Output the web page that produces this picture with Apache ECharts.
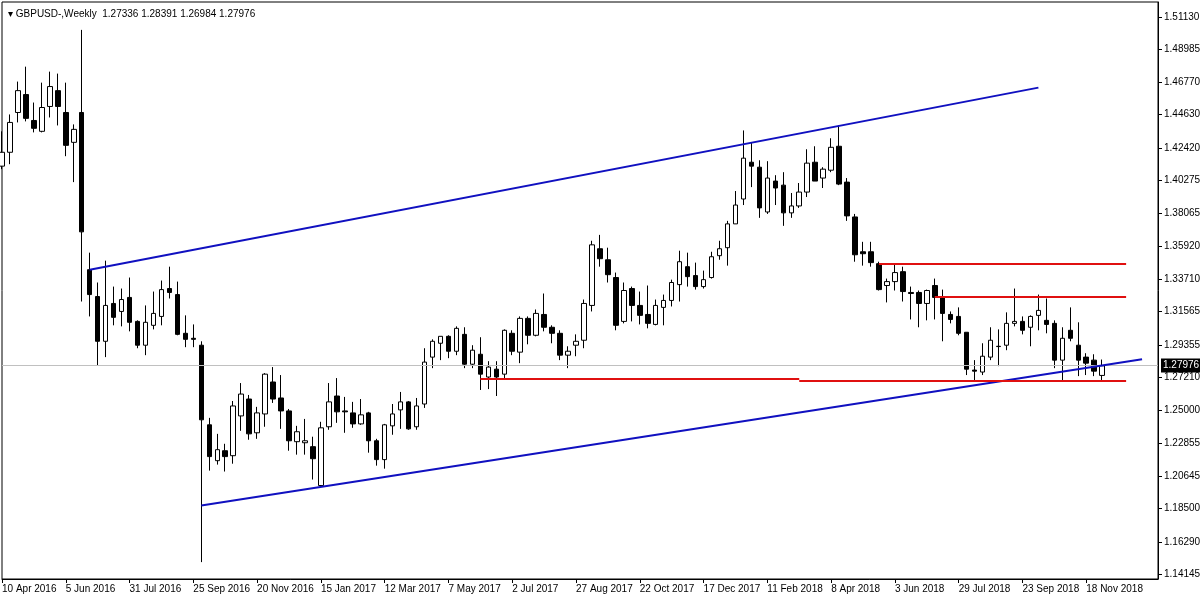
<!DOCTYPE html>
<html><head><meta charset="utf-8">
<script src="https://cdn.jsdelivr.net/npm/echarts@6/dist/echarts.min.js"></script>
<style>html,body{margin:0;padding:0;background:#fff}#c{width:1200px;height:600px}</style>
</head><body><div id="c"></div>
<script>
const opens=[1.4122,1.4214,1.4478,1.4597,1.4425,1.4353,1.4518,1.4623,1.4478,1.4280,
1.4478,1.3435,1.3257,1.2960,1.3211,1.3158,1.3251,1.3092,1.2934,1.3066,
1.3125,1.3310,1.3270,1.3013,1.2980,1.2934,1.2406,1.2168,1.2234,1.2201,
1.2465,1.2577,1.2353,1.2478,1.2690,1.2584,1.2498,1.2294,1.2287,1.2261,
1.2003,1.2393,1.2597,1.2498,1.2485,1.2412,1.2485,1.2300,1.2175,1.2399,
1.2505,1.2558,1.2393,1.2544,1.2855,1.2947,1.2993,1.2894,1.3006,1.2808,
1.2874,1.2723,1.2775,1.2742,1.3013,1.2888,1.3112,1.3000,1.3138,1.3053,
1.3013,1.2868,1.2934,1.2967,1.3198,1.3574,1.3501,1.3383,1.3092,1.3310,
1.3198,1.3138,1.3072,1.3185,1.3231,1.3336,1.3455,1.3396,1.3323,1.3383,
1.3528,1.3581,1.3739,1.3904,1.4148,1.4115,1.3818,1.4023,1.3996,1.3812,
1.3858,1.3950,1.4148,1.4043,1.4095,1.4254,1.4016,1.3785,1.3554,1.3554,
1.3475,1.3330,1.3356,1.3422,1.3284,1.3284,1.3211,1.3330,1.3251,1.3138,
1.3125,1.3020,1.2769,1.2756,1.2855,1.2927,1.2934,1.3079,1.3092,1.3053,
1.3132,1.3099,1.3079,1.2835,1.3033,1.2934,1.2855,1.2835,1.27336];
const closes=[1.4214,1.4412,1.4623,1.4439,1.4373,1.4511,1.4650,1.4518,1.4260,1.4366,
1.3686,1.3270,1.2960,1.3198,1.3119,1.3237,1.3086,1.2934,1.3086,1.3145,
1.3303,1.3284,1.3006,1.2973,1.2973,1.2439,1.2195,1.2241,1.2195,1.2531,
1.2610,1.2346,1.2485,1.2742,1.2577,1.2498,1.2300,1.2360,1.2300,1.2181,
1.2386,1.2558,1.2492,1.2492,1.2412,1.2472,1.2300,1.2175,1.2406,1.2478,
1.2558,1.2379,1.2531,1.2822,1.2960,1.2993,1.2894,1.3046,1.2808,1.2901,
1.2742,1.2789,1.2723,1.3033,1.2894,1.3112,1.3000,1.3145,1.3053,1.3013,
1.2868,1.2894,1.2960,1.3211,1.3600,1.3508,1.3402,1.3066,1.3297,1.3198,
1.3132,1.3079,1.3198,1.3231,1.3350,1.3488,1.3389,1.3323,1.3369,1.3521,
1.3574,1.3739,1.3864,1.4175,1.4122,1.3845,1.4043,1.3977,1.3812,1.3858,
1.3950,1.4142,1.4023,1.4102,1.4247,1.4003,1.3792,1.3534,1.3541,1.3482,
1.3303,1.3356,1.3416,1.3290,1.3277,1.3211,1.3297,1.3251,1.3145,1.3105,
1.3013,1.2775,1.2762,1.2861,1.2967,1.2925,1.3079,1.3092,1.3033,1.3125,
1.3165,1.3072,1.2835,1.2980,1.2980,1.2835,1.2815,1.2762,1.27976];
const lows=[1.4102,1.4135,1.4412,1.4419,1.4346,1.4346,1.4445,1.4392,1.4188,1.4016,
1.3224,1.3125,1.2802,1.2855,1.3066,1.3059,1.3026,1.2914,1.2868,1.3039,
1.3066,1.3244,1.3000,1.2921,1.2921,1.1495,1.2102,1.2142,1.2096,1.2148,
1.2366,1.2307,1.2313,1.2393,1.2551,1.2379,1.2234,1.2208,1.2208,1.2043,
1.1997,1.2373,1.2419,1.2353,1.2386,1.2406,1.2221,1.2135,1.2115,1.2340,
1.2379,1.2373,1.2373,1.2518,1.2782,1.2835,1.2848,1.2868,1.2782,1.2782,
1.2637,1.2643,1.2597,1.2709,1.2868,1.2815,1.2940,1.2993,1.3026,1.2947,
1.2835,1.2782,1.2861,1.2914,1.3158,1.3455,1.3350,1.3033,1.3079,1.3092,
1.3072,1.3046,1.3066,1.3066,1.3191,1.3224,1.3323,1.3303,1.3310,1.3376,
1.3501,1.3462,1.3739,1.3864,1.3983,1.3779,1.3805,1.3864,1.3726,1.3779,
1.3845,1.3917,1.4023,1.3977,1.4082,1.3996,1.3759,1.3488,1.3462,1.3455,
1.3297,1.3218,1.3297,1.3224,1.3105,1.3053,1.3099,1.3105,1.2960,1.3079,
1.3000,1.2736,1.2696,1.2736,1.2835,1.2795,1.2901,1.3059,1.3006,1.2927,
1.3033,1.3013,1.2782,1.2703,1.2960,1.2729,1.2736,1.2729,1.26984];
const highs=[1.4353,1.4465,1.4683,1.4782,1.4544,1.4676,1.4749,1.4736,1.4676,1.4399,
1.5026,1.3548,1.3350,1.3495,1.3323,1.3310,1.3383,1.3099,1.3198,1.3290,
1.3363,1.3455,1.3356,1.3132,1.3072,1.2960,1.2452,1.2346,1.2280,1.2564,
1.2683,1.2604,1.2525,1.2749,1.2789,1.2736,1.2511,1.2399,1.2445,1.2327,
1.2426,1.2683,1.2716,1.2591,1.2558,1.2577,1.2492,1.2313,1.2412,1.2544,
1.2624,1.2564,1.2584,1.2914,1.2973,1.2993,1.3000,1.3059,1.3053,1.2934,
1.2987,1.2828,1.2828,1.3039,1.3033,1.3125,1.3125,1.3171,1.3277,1.3066,
1.3033,1.2927,1.3006,1.3237,1.3627,1.3666,1.3581,1.3416,1.3350,1.3323,
1.3290,1.3330,1.3237,1.3270,1.3369,1.3561,1.3548,1.3482,1.3429,1.3554,
1.3627,1.3759,1.3957,1.4359,1.4280,1.4161,1.4155,1.4062,1.4082,1.3944,
1.4010,1.4234,1.4254,1.4115,1.4307,1.4392,1.4043,1.3805,1.3620,1.3620,
1.3488,1.3376,1.3475,1.3455,1.3323,1.3297,1.3303,1.3376,1.3303,1.3158,
1.3185,1.3020,1.2835,1.2947,1.3053,1.3039,1.3152,1.3310,1.3125,1.3132,
1.3270,1.3244,1.3099,1.3053,1.3185,1.3086,1.2881,1.2874,1.28391];
const xTickLabels=['10 Apr 2016','5 Jun 2016','31 Jul 2016','25 Sep 2016','20 Nov 2016','15 Jan 2017','12 Mar 2017','7 May 2017','2 Jul 2017','27 Aug 2017','22 Oct 2017','17 Dec 2017','11 Feb 2018','8 Apr 2018','3 Jun 2018','29 Jul 2018','23 Sep 2018','18 Nov 2018'];
const yTickValues=[1.51130,1.48985,1.46770,1.44630,1.42420,1.40275,1.38065,1.35920,1.33710,1.31565,1.29355,1.27210,1.25000,1.22855,1.20645,1.18500,1.16290,1.14145];
const blueLines=[[[11,1.3435],[130,1.4643]],[[25,1.1871],[143,1.2841]]];
const redLines=[[[110,1.3475],[141,1.3475]],[[117,1.3257],[141,1.3257]],[[60,1.2709],[100,1.2709]],[[100,1.2696],[141,1.2696]]];
const lastPrice=1.27976;
const title='GBPUSD-,Weekly  1.27336 1.28391 1.26984 1.27976';

const N=146;
const cats=[];
const t0=Date.UTC(2016,3,10);
const mon=['Jan','Feb','Mar','Apr','May','Jun','Jul','Aug','Sep','Oct','Nov','Dec'];
for(let i=0;i<N;i++){const d=new Date(t0+i*7*864e5);cats.push(d.getUTCDate()+' '+mon[d.getUTCMonth()]+' '+d.getUTCFullYear());}
const candles=opens.map((o,i)=>[o,closes[i],lows[i],highs[i]]);
const mk=(pairs,color)=>pairs.map(p=>[{coord:p[0],lineStyle:{color,width:2,type:'solid'}},{coord:p[1]}]);
const F='Liberation Sans';
const chart=echarts.init(document.getElementById('c'));
chart.setOption({
  animation:false,
  backgroundColor:'#fff',
  textStyle:{fontFamily:F},
  title:{text:'▾ '+title,left:3,top:4,textStyle:{fontSize:10,fontWeight:'normal',color:'#000',fontFamily:F}},
  grid:{left:2,right:42,top:2,bottom:21,show:true,borderColor:'#000',borderWidth:1,containLabel:false,outerBoundsMode:'none'},
  xAxis:{type:'category',data:cats,boundaryGap:false,
    axisLine:{lineStyle:{color:'#000'}},
    axisTick:{length:4,interval:(i)=>i%8===0&&i/8<xTickLabels.length,lineStyle:{color:'#000'}},
    axisLabel:{interval:(i)=>i%8===0&&i/8<xTickLabels.length,formatter:(v,i)=>xTickLabels[i/8]||'',align:'left',margin:5,fontSize:10,color:'#000',fontFamily:F,hideOverlap:false},
    splitLine:{show:false}},
  yAxis:{type:'value',position:'right',min:1.1383,max:1.5211,
    axisLine:{show:true,lineStyle:{color:'#000'}},
    axisTick:{show:true,length:4,customValues:yTickValues,lineStyle:{color:'#000'}},
    axisLabel:{customValues:yTickValues,formatter:v=>v.toFixed(5),fontSize:10,color:'#000',margin:6,fontFamily:F},
    splitLine:{show:false}},
  series:[{
    type:'candlestick',data:candles,barWidth:5,
    itemStyle:{color:'#fff',color0:'#000',borderColor:'#000',borderColor0:'#000',borderWidth:1},
    markLine:{symbol:'none',silent:true,animation:false,
      label:{show:false},
      data:[
        {yAxis:lastPrice,lineStyle:{color:'#c0c0c0',width:1,type:'solid'},
         label:{show:true,position:'end',formatter:lastPrice.toFixed(5),backgroundColor:'#000',color:'#fff',padding:[2,2],fontSize:10,distance:3,fontFamily:F}},
        ...mk(blueLines,'#1010c0'),
        ...mk(redLines,'#e01010')
      ]}
  }]
});
</script></body></html>
